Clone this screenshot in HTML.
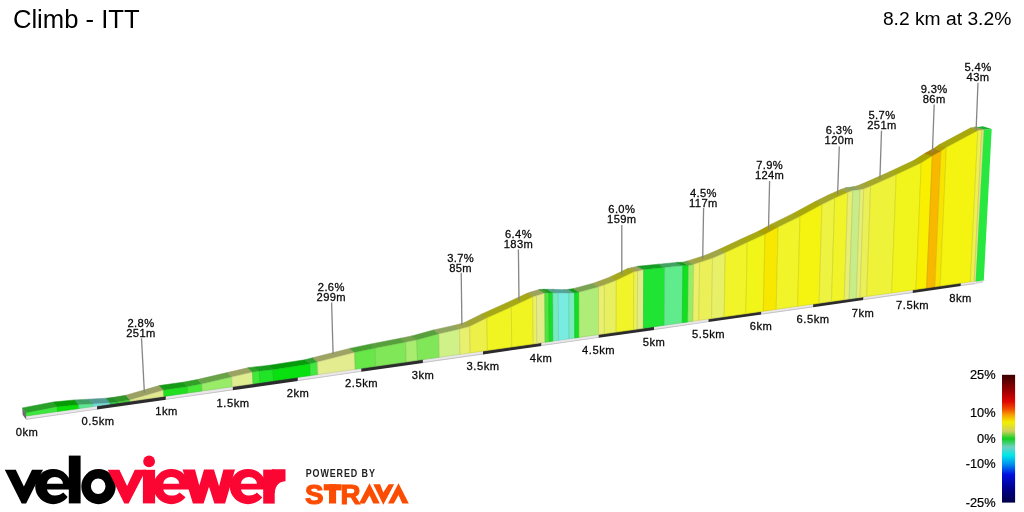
<!DOCTYPE html>
<html><head><meta charset="utf-8"><title>Climb - ITT</title>
<style>
html,body{margin:0;padding:0;background:#fff;}
body{width:1024px;height:512px;overflow:hidden;position:relative;font-family:"Liberation Sans",sans-serif;}
svg{position:absolute;left:0;top:0;will-change:transform;}
.lb{font-family:"Liberation Sans",sans-serif;font-size:11.2px;fill:#0a0a0a;stroke:#0a0a0a;stroke-width:0.28px;text-anchor:middle;letter-spacing:0.35px;}
.kl{letter-spacing:0.5px;}
.t1{font-family:"Liberation Sans",sans-serif;font-size:25.65px;fill:#000;}
.t2{font-family:"Liberation Sans",sans-serif;font-size:19.25px;fill:#000;text-anchor:end;}
.lg{font-family:"Liberation Sans",sans-serif;font-size:12.8px;fill:#000;stroke:#000;stroke-width:0.2px;text-anchor:end;}
</style></head><body>
<svg width="1024" height="512" viewBox="0 0 1024 512">
<defs>
<linearGradient id="gr" x1="0" y1="0" x2="0" y2="1">
<stop offset="0" stop-color="#3a0000"/>
<stop offset="0.13" stop-color="#a00000"/>
<stop offset="0.21" stop-color="#e00800"/>
<stop offset="0.27" stop-color="#f05000"/>
<stop offset="0.315" stop-color="#f8a000"/>
<stop offset="0.37" stop-color="#f0f000"/>
<stop offset="0.44" stop-color="#d0d060"/>
<stop offset="0.50" stop-color="#10d020"/>
<stop offset="0.565" stop-color="#70d0c0"/>
<stop offset="0.63" stop-color="#00e8e8"/>
<stop offset="0.70" stop-color="#0090f0"/>
<stop offset="0.78" stop-color="#0010e0"/>
<stop offset="0.885" stop-color="#000090"/>
<stop offset="1" stop-color="#000048"/>
</linearGradient>
</defs>
<text class="t1" x="12.9" y="27.8">Climb - ITT</text>
<text class="t2" x="1011.3" y="25">8.2 km at 3.2%</text>
<polygon points="26.30,415.70 97.07,405.64 97.07,409.62 26.30,419.75" fill="#e9e7ea"/>
<polygon points="26.30,418.85 97.07,408.72 97.07,409.62 26.30,419.75" fill="#c4c2c6"/>
<polygon points="97.07,405.64 165.87,395.85 165.87,399.78 97.07,409.62" fill="#2b2b2e"/>
<polygon points="165.87,395.85 232.79,386.34 232.79,390.20 165.87,399.78" fill="#e9e7ea"/>
<polygon points="165.87,398.88 232.79,389.30 232.79,390.20 165.87,399.78" fill="#c4c2c6"/>
<polygon points="232.79,386.34 297.89,377.08 297.89,380.88 232.79,390.20" fill="#2b2b2e"/>
<polygon points="297.89,377.08 361.25,368.07 361.25,371.82 297.89,380.88" fill="#e9e7ea"/>
<polygon points="297.89,379.98 361.25,370.92 361.25,371.82 297.89,380.88" fill="#c4c2c6"/>
<polygon points="361.25,368.07 422.95,359.29 422.95,362.99 361.25,371.82" fill="#2b2b2e"/>
<polygon points="422.95,359.29 483.03,350.75 483.03,354.39 422.95,362.99" fill="#e9e7ea"/>
<polygon points="422.95,362.09 483.03,353.49 483.03,354.39 422.95,362.99" fill="#c4c2c6"/>
<polygon points="483.03,350.75 541.58,342.42 541.58,346.01 483.03,354.39" fill="#2b2b2e"/>
<polygon points="541.58,342.42 598.64,334.31 598.64,337.84 541.58,346.01" fill="#e9e7ea"/>
<polygon points="541.58,345.11 598.64,336.94 598.64,337.84 541.58,346.01" fill="#c4c2c6"/>
<polygon points="598.64,334.31 654.27,326.40 654.27,329.88 598.64,337.84" fill="#2b2b2e"/>
<polygon points="654.27,326.40 708.53,318.68 708.53,322.12 654.27,329.88" fill="#e9e7ea"/>
<polygon points="654.27,328.98 708.53,321.22 708.53,322.12 654.27,329.88" fill="#c4c2c6"/>
<polygon points="708.53,318.68 761.46,311.15 761.46,314.54 708.53,322.12" fill="#2b2b2e"/>
<polygon points="761.46,311.15 813.12,303.81 813.12,307.15 761.46,314.54" fill="#e9e7ea"/>
<polygon points="761.46,313.64 813.12,306.25 813.12,307.15 761.46,314.54" fill="#c4c2c6"/>
<polygon points="813.12,303.81 863.54,296.64 863.54,299.94 813.12,307.15" fill="#2b2b2e"/>
<polygon points="863.54,296.64 912.77,289.63 912.77,292.89 863.54,299.94" fill="#e9e7ea"/>
<polygon points="863.54,299.04 912.77,291.99 912.77,292.89 863.54,299.94" fill="#c4c2c6"/>
<polygon points="912.77,289.63 960.86,282.80 960.86,286.01 912.77,292.89" fill="#2b2b2e"/>
<polygon points="960.86,282.80 975.60,280.70 975.60,283.90 960.86,286.01" fill="#e9e7ea"/>
<polygon points="960.86,285.11 975.60,283.00 975.60,283.90 960.86,286.01" fill="#c4c2c6"/>
<polygon points="975.60,281.00 983.60,280.50 982.60,282.70 975.60,283.90" fill="#d8d6da"/>
<polygon points="22.25,407.9 26,412.9 26.3,419.75 22.6,414.75" fill="#6c6c6c"/>
<polygon points="22.30,407.90 53.38,401.98 57.20,406.90 26.00,412.90" fill="#29a029" stroke="#269226" stroke-width="0.5"/>
<polygon points="53.38,401.98 74.84,399.93 78.75,404.80 57.20,406.90" fill="#069b06" stroke="#058d05" stroke-width="0.5"/>
<polygon points="74.84,399.93 88.83,399.17 92.80,404.00 78.75,404.80" fill="#3fa063" stroke="#3a925b" stroke-width="0.5"/>
<polygon points="88.83,399.17 106.26,398.21 110.30,403.00 92.80,404.00" fill="#539b95" stroke="#4c8d88" stroke-width="0.5"/>
<polygon points="106.26,398.21 113.73,397.33 117.80,402.10 110.30,403.00" fill="#21902c" stroke="#1e8328" stroke-width="0.5"/>
<polygon points="113.73,397.33 125.88,395.26 130.00,400.00 117.80,402.10" fill="#329527" stroke="#2d8823" stroke-width="0.5"/>
<polygon points="125.88,395.26 159.35,385.54 163.60,390.20 130.00,400.00" fill="#9ba063" stroke="#8d925b" stroke-width="0.5"/>
<polygon points="159.35,385.54 183.05,382.20 187.40,386.80 163.60,390.20" fill="#169b16" stroke="#148d14" stroke-width="0.5"/>
<polygon points="183.05,382.20 197.35,379.54 201.75,384.10 187.40,386.80" fill="#32a027" stroke="#2d9223" stroke-width="0.5"/>
<polygon points="197.35,379.54 227.23,372.61 231.75,377.10 201.75,384.10" fill="#69a348" stroke="#609542" stroke-width="0.5"/>
<polygon points="227.23,372.61 247.89,367.77 252.50,372.20 231.75,377.10" fill="#9ba363" stroke="#8d955b" stroke-width="0.5"/>
<polygon points="247.89,367.77 254.77,366.88 259.40,371.30 252.50,372.20" fill="#2ca027" stroke="#289223" stroke-width="0.5"/>
<polygon points="254.77,366.88 268.41,365.42 273.10,369.80 259.40,371.30" fill="#169d1c" stroke="#149019" stroke-width="0.5"/>
<polygon points="268.41,365.42 305.16,359.71 310.00,364.00 273.10,369.80" fill="#069b0b" stroke="#058d0a" stroke-width="0.5"/>
<polygon points="305.16,359.71 312.63,357.73 317.50,362.00 310.00,364.00" fill="#2ca02c" stroke="#289228" stroke-width="0.5"/>
<polygon points="312.63,357.73 349.74,348.42 354.75,352.60 317.50,362.00" fill="#9da363" stroke="#90955b" stroke-width="0.5"/>
<polygon points="349.74,348.42 370.00,344.17 375.10,348.30 354.75,352.60" fill="#48a032" stroke="#42922d" stroke-width="0.5"/>
<polygon points="370.00,344.17 400.53,338.25 405.75,342.30 375.10,348.30" fill="#58a03d" stroke="#519237" stroke-width="0.5"/>
<polygon points="400.53,338.25 411.74,335.98 417.00,340.00 405.75,342.30" fill="#74a34d" stroke="#6a9547" stroke-width="0.5"/>
<polygon points="411.74,335.98 433.55,330.03 438.90,334.00 417.00,340.00" fill="#58a03d" stroke="#519237" stroke-width="0.5"/>
<polygon points="433.55,330.03 454.07,325.38 459.50,329.30 438.90,334.00" fill="#90a65e" stroke="#839756" stroke-width="0.5"/>
<polygon points="454.07,325.38 464.23,322.71 469.70,326.60 459.50,329.30" fill="#a0a64d" stroke="#929747" stroke-width="0.5"/>
<polygon points="464.23,322.71 481.36,314.15 486.90,318.00 469.70,326.60" fill="#a3a632" stroke="#95972d" stroke-width="0.5"/>
<polygon points="481.36,314.15 505.66,303.31 511.30,307.10 486.90,318.00" fill="#a6a816" stroke="#979a14" stroke-width="0.5"/>
<polygon points="505.66,303.31 527.07,293.27 532.80,297.00 511.30,307.10" fill="#a6a816" stroke="#979a14" stroke-width="0.5"/>
<polygon points="527.07,293.27 530.76,292.08 536.50,295.80 532.80,297.00" fill="#a3a642" stroke="#95973c" stroke-width="0.5"/>
<polygon points="530.76,292.08 539.02,289.50 544.80,293.20 536.50,295.80" fill="#9da35e" stroke="#909556" stroke-width="0.5"/>
<polygon points="539.02,289.50 543.11,289.31 548.90,293.00 544.80,293.20" fill="#379d2c" stroke="#329028" stroke-width="0.5"/>
<polygon points="543.11,289.31 547.09,289.32 552.90,293.00 548.90,293.00" fill="#119b1c" stroke="#0f8d19" stroke-width="0.5"/>
<polygon points="547.09,289.32 552.42,289.33 558.25,293.00 552.90,293.00" fill="#53a384" stroke="#4c9579" stroke-width="0.5"/>
<polygon points="552.42,289.33 563.03,289.66 568.90,293.30 558.25,293.00" fill="#53a39b" stroke="#4c958d" stroke-width="0.5"/>
<polygon points="563.03,289.66 568.71,289.37 574.60,293.00 568.90,293.30" fill="#53a384" stroke="#4c9579" stroke-width="0.5"/>
<polygon points="568.71,289.37 573.09,288.68 579.00,292.30 574.60,293.00" fill="#0b9b16" stroke="#0a8d14" stroke-width="0.5"/>
<polygon points="573.09,288.68 592.61,283.43 598.60,287.00 579.00,292.30" fill="#79a353" stroke="#6f954c" stroke-width="0.5"/>
<polygon points="592.61,283.43 598.39,281.45 604.40,285.00 598.60,287.00" fill="#a0a64d" stroke="#929747" stroke-width="0.5"/>
<polygon points="598.39,281.45 610.24,276.88 616.30,280.40 604.40,285.00" fill="#a0a642" stroke="#92973c" stroke-width="0.5"/>
<polygon points="610.24,276.88 627.62,268.52 633.75,272.00 616.30,280.40" fill="#a6a81c" stroke="#979a19" stroke-width="0.5"/>
<polygon points="627.62,268.52 631.45,267.73 637.60,271.20 633.75,272.00" fill="#a3a637" stroke="#959732" stroke-width="0.5"/>
<polygon points="631.45,267.73 637.53,266.34 643.70,269.80 637.60,271.20" fill="#9da35e" stroke="#909556" stroke-width="0.5"/>
<polygon points="637.53,266.34 658.50,264.20 664.75,267.60 643.70,269.80" fill="#169d24" stroke="#149021" stroke-width="0.5"/>
<polygon points="658.50,264.20 676.57,262.44 682.90,265.80 664.75,267.60" fill="#42a361" stroke="#3c9558" stroke-width="0.5"/>
<polygon points="676.57,262.44 682.15,262.26 688.50,265.60 682.90,265.80" fill="#0b9b16" stroke="#0a8d14" stroke-width="0.5"/>
<polygon points="682.15,262.26 687.38,261.07 693.75,264.40 688.50,265.60" fill="#69a348" stroke="#609542" stroke-width="0.5"/>
<polygon points="687.38,261.07 693.21,259.18 699.60,262.50 693.75,264.40" fill="#a3a648" stroke="#959742" stroke-width="0.5"/>
<polygon points="693.21,259.18 706.05,255.02 712.50,258.30 699.60,262.50" fill="#a3a63d" stroke="#959737" stroke-width="0.5"/>
<polygon points="706.05,255.02 718.75,249.55 725.25,252.80 712.50,258.30" fill="#a0a648" stroke="#929742" stroke-width="0.5"/>
<polygon points="718.75,249.55 740.66,239.30 747.25,242.50 725.25,252.80" fill="#a6a81c" stroke="#979a19" stroke-width="0.5"/>
<polygon points="740.66,239.30 758.34,231.25 765.00,234.40 747.25,242.50" fill="#a7a911" stroke="#989a0f" stroke-width="0.5"/>
<polygon points="758.34,231.25 771.39,224.13 778.10,227.25 765.00,234.40" fill="#aba000" stroke="#9c9200" stroke-width="0.5"/>
<polygon points="771.39,224.13 793.20,213.44 800.00,216.50 778.10,227.25" fill="#a6a81c" stroke="#979a19" stroke-width="0.5"/>
<polygon points="793.20,213.44 815.12,201.59 822.00,204.60 800.00,216.50" fill="#a8a80b" stroke="#9a9a0a" stroke-width="0.5"/>
<polygon points="815.12,201.59 827.77,195.32 834.70,198.30 822.00,204.60" fill="#a4a72c" stroke="#969828" stroke-width="0.5"/>
<polygon points="827.77,195.32 840.76,189.55 847.75,192.50 834.70,198.30" fill="#a6a81c" stroke="#979a19" stroke-width="0.5"/>
<polygon points="840.76,189.55 845.74,187.67 852.75,190.60 847.75,192.50" fill="#a0a44d" stroke="#929647" stroke-width="0.5"/>
<polygon points="845.74,187.67 852.96,186.84 860.00,189.75 852.75,190.60" fill="#8aa35e" stroke="#7e9556" stroke-width="0.5"/>
<polygon points="852.96,186.84 856.70,186.09 863.75,189.00 860.00,189.75" fill="#9da453" stroke="#90964c" stroke-width="0.5"/>
<polygon points="856.70,186.09 863.52,183.36 870.60,186.25 863.75,189.00" fill="#a3a63d" stroke="#959737" stroke-width="0.5"/>
<polygon points="863.52,183.36 889.07,171.93 896.25,174.75 870.60,186.25" fill="#a4a727" stroke="#969823" stroke-width="0.5"/>
<polygon points="889.07,171.93 913.97,160.34 921.25,163.10 896.25,174.75" fill="#a7a913" stroke="#989a12" stroke-width="0.5"/>
<polygon points="913.97,160.34 924.97,153.27 932.30,156.00 921.25,163.10" fill="#aba600" stroke="#9c9700" stroke-width="0.5"/>
<polygon points="924.97,153.27 933.64,148.59 941.00,151.30 932.30,156.00" fill="#ab7f00" stroke="#9c7400" stroke-width="0.5"/>
<polygon points="933.64,148.59 939.02,144.80 946.40,147.50 941.00,151.30" fill="#ab9d00" stroke="#9c9000" stroke-width="0.5"/>
<polygon points="939.02,144.80 970.29,128.08 977.80,130.70 946.40,147.50" fill="#a8a80b" stroke="#9a9a0a" stroke-width="0.5"/>
<polygon points="970.29,128.08 974.18,127.29 981.70,129.90 977.80,130.70" fill="#a4a732" stroke="#96982d" stroke-width="0.5"/>
<polygon points="974.18,127.29 976.37,126.79 983.90,129.40 981.70,129.90" fill="#a09b58" stroke="#928d51" stroke-width="0.5"/>
<polygon points="26.00,412.90 57.20,406.90 57.53,411.56 26.23,416.01" fill="#3ce83c" stroke="#34c834" stroke-width="0.6"/>
<polygon points="57.20,406.90 78.75,404.80 79.00,408.51 57.53,411.56" fill="#08e008" stroke="#07c107" stroke-width="0.6"/>
<polygon points="78.75,404.80 92.80,404.00 92.97,406.52 79.00,408.51" fill="#5ce890" stroke="#4fc87c" stroke-width="0.6"/>
<polygon points="92.80,404.00 110.30,403.00 110.37,404.04 92.97,406.52" fill="#78e0d8" stroke="#67c1ba" stroke-width="0.6"/>
<polygon points="110.30,403.00 117.80,402.10 117.86,402.98 110.37,404.04" fill="#30d040" stroke="#29b337" stroke-width="0.6"/>
<polygon points="117.80,402.10 130.00,400.00 130.08,401.24 117.86,402.98" fill="#48d838" stroke="#3eba30" stroke-width="0.6"/>
<polygon points="130.00,400.00 163.60,390.20 163.95,396.42 130.08,401.24" fill="#e0e890" stroke="#c1c87c" stroke-width="0.6"/>
<polygon points="163.60,390.20 187.40,386.80 187.73,393.04 163.95,396.42" fill="#20e020" stroke="#1cc11c" stroke-width="0.6"/>
<polygon points="187.40,386.80 201.75,384.10 202.11,391.00 187.73,393.04" fill="#48e838" stroke="#3ec830" stroke-width="0.6"/>
<polygon points="201.75,384.10 231.75,377.10 232.21,386.72 202.11,391.00" fill="#98ec68" stroke="#83cb59" stroke-width="0.6"/>
<polygon points="231.75,377.10 252.50,372.20 253.02,383.76 232.21,386.72" fill="#e0ec90" stroke="#c1cb7c" stroke-width="0.6"/>
<polygon points="252.50,372.20 259.40,371.30 259.91,382.78 253.02,383.76" fill="#40e838" stroke="#37c830" stroke-width="0.6"/>
<polygon points="259.40,371.30 273.10,369.80 273.57,380.84 259.91,382.78" fill="#20e428" stroke="#1cc422" stroke-width="0.6"/>
<polygon points="273.10,369.80 310.00,364.00 310.44,375.59 273.57,380.84" fill="#08e010" stroke="#07c10e" stroke-width="0.6"/>
<polygon points="310.00,364.00 317.50,362.00 317.96,374.52 310.44,375.59" fill="#40e840" stroke="#37c837" stroke-width="0.6"/>
<polygon points="317.50,362.00 354.75,352.60 355.28,369.22 317.96,374.52" fill="#e4ec90" stroke="#c4cb7c" stroke-width="0.6"/>
<polygon points="354.75,352.60 375.10,348.30 375.63,366.32 355.28,369.22" fill="#68e848" stroke="#59c83e" stroke-width="0.6"/>
<polygon points="375.10,348.30 405.75,342.30 406.25,361.97 375.63,366.32" fill="#80e858" stroke="#6ec84c" stroke-width="0.6"/>
<polygon points="405.75,342.30 417.00,340.00 417.48,360.37 406.25,361.97" fill="#a8ec70" stroke="#90cb60" stroke-width="0.6"/>
<polygon points="417.00,340.00 438.90,334.00 439.39,357.25 417.48,360.37" fill="#80e858" stroke="#6ec84c" stroke-width="0.6"/>
<polygon points="438.90,334.00 459.50,329.30 459.96,354.33 439.39,357.25" fill="#d0f088" stroke="#b3ce75" stroke-width="0.6"/>
<polygon points="459.50,329.30 469.70,326.60 470.14,352.88 459.96,354.33" fill="#e8f070" stroke="#c8ce60" stroke-width="0.6"/>
<polygon points="469.70,326.60 486.90,318.00 487.38,350.43 470.14,352.88" fill="#ecf048" stroke="#cbce3e" stroke-width="0.6"/>
<polygon points="486.90,318.00 511.30,307.10 511.76,346.96 487.38,350.43" fill="#f0f420" stroke="#ced21c" stroke-width="0.6"/>
<polygon points="511.30,307.10 532.80,297.00 533.21,343.91 511.76,346.96" fill="#f0f420" stroke="#ced21c" stroke-width="0.6"/>
<polygon points="532.80,297.00 536.50,295.80 536.89,343.39 533.21,343.91" fill="#ecf060" stroke="#cbce53" stroke-width="0.6"/>
<polygon points="536.50,295.80 544.80,293.20 545.15,342.21 536.89,343.39" fill="#e4ec88" stroke="#c4cb75" stroke-width="0.6"/>
<polygon points="544.80,293.20 548.90,293.00 549.22,341.64 545.15,342.21" fill="#50e440" stroke="#45c437" stroke-width="0.6"/>
<polygon points="548.90,293.00 552.90,293.00 553.19,341.07 549.22,341.64" fill="#18e028" stroke="#15c122" stroke-width="0.6"/>
<polygon points="552.90,293.00 558.25,293.00 558.51,340.31 553.19,341.07" fill="#78ecc0" stroke="#67cba5" stroke-width="0.6"/>
<polygon points="558.25,293.00 568.90,293.30 569.08,338.81 558.51,340.31" fill="#78ece0" stroke="#67cbc1" stroke-width="0.6"/>
<polygon points="568.90,293.30 574.60,293.00 574.75,338.01 569.08,338.81" fill="#78ecc0" stroke="#67cba5" stroke-width="0.6"/>
<polygon points="574.60,293.00 579.00,292.30 579.12,337.38 574.75,338.01" fill="#10e020" stroke="#0ec11c" stroke-width="0.6"/>
<polygon points="579.00,292.30 598.60,287.00 598.61,334.61 579.12,337.38" fill="#b0ec78" stroke="#97cb67" stroke-width="0.6"/>
<polygon points="598.60,287.00 604.40,285.00 604.37,333.79 598.61,334.61" fill="#e8f070" stroke="#c8ce60" stroke-width="0.6"/>
<polygon points="604.40,285.00 616.30,280.40 616.19,332.11 604.37,333.79" fill="#e8f060" stroke="#c8ce53" stroke-width="0.6"/>
<polygon points="616.30,280.40 633.75,272.00 633.50,329.65 616.19,332.11" fill="#f0f428" stroke="#ced222" stroke-width="0.6"/>
<polygon points="633.75,272.00 637.60,271.20 637.32,329.11 633.50,329.65" fill="#ecf050" stroke="#cbce45" stroke-width="0.6"/>
<polygon points="637.60,271.20 643.70,269.80 643.37,328.25 637.32,329.11" fill="#e4ec88" stroke="#c4cb75" stroke-width="0.6"/>
<polygon points="643.70,269.80 664.75,267.60 664.27,325.27 643.37,328.25" fill="#20e434" stroke="#1cc42d" stroke-width="0.6"/>
<polygon points="664.75,267.60 682.90,265.80 682.29,322.71 664.27,325.27" fill="#60ec8c" stroke="#53cb78" stroke-width="0.6"/>
<polygon points="682.90,265.80 688.50,265.60 687.85,321.92 682.29,322.71" fill="#10e020" stroke="#0ec11c" stroke-width="0.6"/>
<polygon points="688.50,265.60 693.75,264.40 693.06,321.18 687.85,321.92" fill="#98ec68" stroke="#83cb59" stroke-width="0.6"/>
<polygon points="693.75,264.40 699.60,262.50 698.85,320.36 693.06,321.18" fill="#ecf068" stroke="#cbce59" stroke-width="0.6"/>
<polygon points="699.60,262.50 712.50,258.30 711.62,318.54 698.85,320.36" fill="#ecf058" stroke="#cbce4c" stroke-width="0.6"/>
<polygon points="712.50,258.30 725.25,252.80 724.21,316.75 711.62,318.54" fill="#e8f068" stroke="#c8ce59" stroke-width="0.6"/>
<polygon points="725.25,252.80 747.25,242.50 745.89,313.67 724.21,316.75" fill="#f0f428" stroke="#ced222" stroke-width="0.6"/>
<polygon points="747.25,242.50 765.00,234.40 763.35,311.18 745.89,313.67" fill="#f2f518" stroke="#d0d315" stroke-width="0.6"/>
<polygon points="765.00,234.40 778.10,227.25 776.20,309.36 763.35,311.18" fill="#f8e800" stroke="#d5c800" stroke-width="0.6"/>
<polygon points="778.10,227.25 800.00,216.50 797.67,306.30 776.20,309.36" fill="#f0f428" stroke="#ced222" stroke-width="0.6"/>
<polygon points="800.00,216.50 822.00,204.60 819.16,303.25 797.67,306.30" fill="#f4f410" stroke="#d2d20e" stroke-width="0.6"/>
<polygon points="822.00,204.60 834.70,198.30 831.55,301.48 819.16,303.25" fill="#eef240" stroke="#cdd037" stroke-width="0.6"/>
<polygon points="834.70,198.30 847.75,192.50 844.30,299.67 831.55,301.48" fill="#f0f428" stroke="#ced222" stroke-width="0.6"/>
<polygon points="847.75,192.50 852.75,190.60 849.19,298.98 844.30,299.67" fill="#e8ee70" stroke="#c8cd60" stroke-width="0.6"/>
<polygon points="852.75,190.60 860.00,189.75 856.35,297.96 849.19,298.98" fill="#c8ec88" stroke="#accb75" stroke-width="0.6"/>
<polygon points="860.00,189.75 863.75,189.00 860.04,297.43 856.35,297.96" fill="#e4ee78" stroke="#c4cd67" stroke-width="0.6"/>
<polygon points="863.75,189.00 870.60,186.25 866.73,296.48 860.04,297.43" fill="#ecf058" stroke="#cbce4c" stroke-width="0.6"/>
<polygon points="870.60,186.25 896.25,174.75 891.70,292.93 866.73,296.48" fill="#eef238" stroke="#cdd030" stroke-width="0.6"/>
<polygon points="896.25,174.75 921.25,163.10 915.98,289.48 891.70,292.93" fill="#f2f51c" stroke="#d0d318" stroke-width="0.6"/>
<polygon points="921.25,163.10 932.30,156.00 926.60,287.97 915.98,289.48" fill="#f8f000" stroke="#d5ce00" stroke-width="0.6"/>
<polygon points="932.30,156.00 941.00,151.30 935.00,286.77 926.60,287.97" fill="#f8b800" stroke="#d59e00" stroke-width="0.6"/>
<polygon points="941.00,151.30 946.40,147.50 940.17,286.04 935.00,286.77" fill="#f8e400" stroke="#d5c400" stroke-width="0.6"/>
<polygon points="946.40,147.50 977.80,130.70 970.39,281.74 940.17,286.04" fill="#f4f410" stroke="#d2d20e" stroke-width="0.6"/>
<polygon points="977.80,130.70 981.70,129.90 974.20,281.20 970.39,281.74" fill="#eef248" stroke="#cdd03e" stroke-width="0.6"/>
<polygon points="981.70,129.90 983.90,129.40 976.35,280.89 974.20,281.20" fill="#e8e080" stroke="#c8c16e" stroke-width="0.6"/>
<polygon points="983.9,129.4 991.7,129.1 983.8,280.4 975.6,281.6" fill="#28e840"/>
<polygon points="976.6,127.3 982.8,126.3 991.7,129.1 983.9,129.5" fill="#1cb030"/>
<line x1="141.5" y1="338.2" x2="144.4" y2="392.8" stroke="#858585" stroke-width="1.3"/>
<text class="lb" x="141.0" y="327.0">2.8%</text>
<text class="lb" x="141.0" y="337.1">251m</text>
<line x1="331.6" y1="302.5" x2="333.1" y2="354.0" stroke="#858585" stroke-width="1.3"/>
<text class="lb" x="331.3" y="291.2">2.6%</text>
<text class="lb" x="331.3" y="301.3">299m</text>
<line x1="461.2" y1="272.8" x2="461.9" y2="325.0" stroke="#858585" stroke-width="1.3"/>
<text class="lb" x="460.6" y="262.0">3.7%</text>
<text class="lb" x="460.6" y="272.1">85m</text>
<line x1="518.4" y1="249.5" x2="519.0" y2="300.6" stroke="#858585" stroke-width="1.3"/>
<text class="lb" x="518.5" y="237.8">6.4%</text>
<text class="lb" x="518.5" y="247.9">183m</text>
<line x1="621.8" y1="225.0" x2="621.8" y2="275.0" stroke="#858585" stroke-width="1.3"/>
<text class="lb" x="621.8" y="213.0">6.0%</text>
<text class="lb" x="621.8" y="223.1">159m</text>
<line x1="703.6" y1="208.0" x2="702.7" y2="258.8" stroke="#858585" stroke-width="1.3"/>
<text class="lb" x="703.4" y="196.8">4.5%</text>
<text class="lb" x="703.4" y="206.9">117m</text>
<line x1="769.6" y1="180.9" x2="768.5" y2="229.4" stroke="#858585" stroke-width="1.3"/>
<text class="lb" x="769.6" y="169.0">7.9%</text>
<text class="lb" x="769.6" y="179.1">124m</text>
<line x1="839.3" y1="146.6" x2="837.6" y2="194.6" stroke="#858585" stroke-width="1.3"/>
<text class="lb" x="839.3" y="134.3">6.3%</text>
<text class="lb" x="839.3" y="144.4">120m</text>
<line x1="881.5" y1="130.7" x2="879.9" y2="178.8" stroke="#858585" stroke-width="1.3"/>
<text class="lb" x="882.0" y="119.3">5.7%</text>
<text class="lb" x="882.0" y="129.4">251m</text>
<line x1="934.2" y1="104.4" x2="932.4" y2="152.8" stroke="#858585" stroke-width="1.3"/>
<text class="lb" x="934.2" y="93.0">9.3%</text>
<text class="lb" x="934.2" y="103.1">86m</text>
<line x1="978.0" y1="82.7" x2="976.1" y2="130.5" stroke="#858585" stroke-width="1.3"/>
<text class="lb" x="978.0" y="70.8">5.4%</text>
<text class="lb" x="978.0" y="80.9">43m</text>
<text class="lb kl" x="27.1" y="435.5">0km</text>
<text class="lb kl" x="98.1" y="425.0">0.5km</text>
<text class="lb kl" x="166.6" y="415.0">1km</text>
<text class="lb kl" x="233.1" y="406.5">1.5km</text>
<text class="lb kl" x="298.1" y="397.0">2km</text>
<text class="lb kl" x="361.6" y="387.0">2.5km</text>
<text class="lb kl" x="423.1" y="379.0">3km</text>
<text class="lb kl" x="483.1" y="370.0">3.5km</text>
<text class="lb kl" x="541.1" y="361.9">4km</text>
<text class="lb kl" x="598.6" y="354.0">4.5km</text>
<text class="lb kl" x="654.1" y="346.0">5km</text>
<text class="lb kl" x="708.6" y="338.0">5.5km</text>
<text class="lb kl" x="761.1" y="330.0">6km</text>
<text class="lb kl" x="813.1" y="323.0">6.5km</text>
<text class="lb kl" x="863.1" y="316.5">7km</text>
<text class="lb kl" x="912.6" y="309.0">7.5km</text>
<text class="lb kl" x="960.6" y="302.0">8km</text>
<rect x="1002" y="374.8" width="13.1" height="127.8" fill="url(#gr)"/>
<text class="lg" x="995.6" y="379.2">25%</text>
<text class="lg" x="995.6" y="417.2">10%</text>
<text class="lg" x="995.6" y="443">0%</text>
<text class="lg" x="995.6" y="468.2">-10%</text>
<text class="lg" x="995.6" y="507.2">-25%</text>
<g id="logo">
<!-- velo (black) -->
<g fill="#000">
<ellipse cx="53.2" cy="486.6" rx="18" ry="17.6"/>
</g>
<g fill="#fff">
<path d="M46.9,483.7 A8.05,6.7 0 0 1 63,483.7 Z"/>
<path d="M46.9,489.5 L70,489.5 L70,499.2 L63.2,492.6 Q60,495.6 55,495.6 Q48.5,495.6 46.9,489.5 Z"/>
</g>
<g fill="#000">
<polygon points="4.8,469.8 15.8,469.8 23.9,486.5 32,469.8 43,469.8 26.1,503.4 21.7,503.4"/>
<rect x="68.8" y="455.6" width="11.8" height="47.8"/>
<path fill-rule="evenodd" d="M81.3,486.6 a17.2,17.6 0 1 0 34.4,0 a17.2,17.6 0 1 0 -34.4,0 Z M90.9,486.3 a7.3,7.7 0 1 0 14.6,0 a7.3,7.7 0 1 0 -14.6,0 Z"/>
</g>
<!-- viewer (red) -->
<g fill="#fb0532">
<ellipse cx="171.3" cy="486.6" rx="18" ry="17.6"/>
<ellipse cx="248" cy="486.6" rx="18.2" ry="17.6"/>
</g>
<g fill="#fff">
<path d="M163.2,483.7 A8.05,6.7 0 0 1 179.3,483.7 Z"/>
<path d="M163.2,489.5 L193,489.5 L193,503 L179.5,492.4 Q176.5,495.6 171.3,495.6 Q164.8,495.6 163.2,489.5 Z"/>
<path d="M240.9,483.7 A8.05,6.7 0 0 1 257,483.7 Z"/>
<path d="M240.9,489.5 L264,489.5 L264,499 L256.8,492.6 Q254,495.6 249,495.6 Q242.5,495.6 240.9,489.5 Z"/>
</g>
<g fill="#fb0532">
<polygon points="107.7,469.8 119.4,469.8 127.1,486 134.8,469.8 146,469.8 128.6,503.4 124.3,503.4"/>
<rect x="142.9" y="469.8" width="12.2" height="33.6"/>
<circle cx="149.1" cy="461.4" r="5.9"/>
<polygon points="182.6,469.6 195,469.6 199.3,485.5 204,469.6 213.9,469.6 219.1,486.3 223.4,469.6 235,469.6 225.1,503.6 214.4,503.6 209,486.8 203.6,503.6 192.9,503.6"/>
<rect x="263.2" y="469.6" width="11.5" height="34"/>
<path d="M272,469.2 L285.5,469.2 L285.5,481.2 C280,481.2 275.6,484.5 274.7,493 L272,493 Z"/>
</g>
<!-- powered by strava -->
<text transform="translate(305.7,477.3) scale(0.82,1)" x="0" y="0" font-family="Liberation Sans, sans-serif" font-weight="bold" font-size="10.9" fill="#222" textLength="84.4" lengthAdjust="spacing">POWERED BY</text>
<g fill="#fc4c02">
<text x="305.0" y="503.5" font-family="Liberation Sans, sans-serif" font-weight="bold" font-size="27" textLength="18.6" lengthAdjust="spacingAndGlyphs" stroke="#fc4c02" stroke-width="1.1">S</text>
<rect x="323.7" y="484.2" width="17.9" height="6.2"/>
<rect x="329" y="484.2" width="7.1" height="19.3"/>
<text x="340.6" y="503.5" font-family="Liberation Sans, sans-serif" font-weight="bold" font-size="27" textLength="20" lengthAdjust="spacingAndGlyphs" stroke="#fc4c02" stroke-width="1.1">R</text>
<polygon points="369.5,483.3 359,503.5 364.8,503.5 369.5,495.3 373.3,503.5 379.8,503.5"/>
<polygon points="373.3,484.2 380.1,484.2 383.3,492.4 388.6,484.2 394.1,484.2 383.3,504.7"/>
<polygon points="398.5,483.3 388,503.5 393.8,503.5 398.5,495 402.3,503.5 408.8,503.5"/>
</g>
</g>

</svg>
</body></html>
